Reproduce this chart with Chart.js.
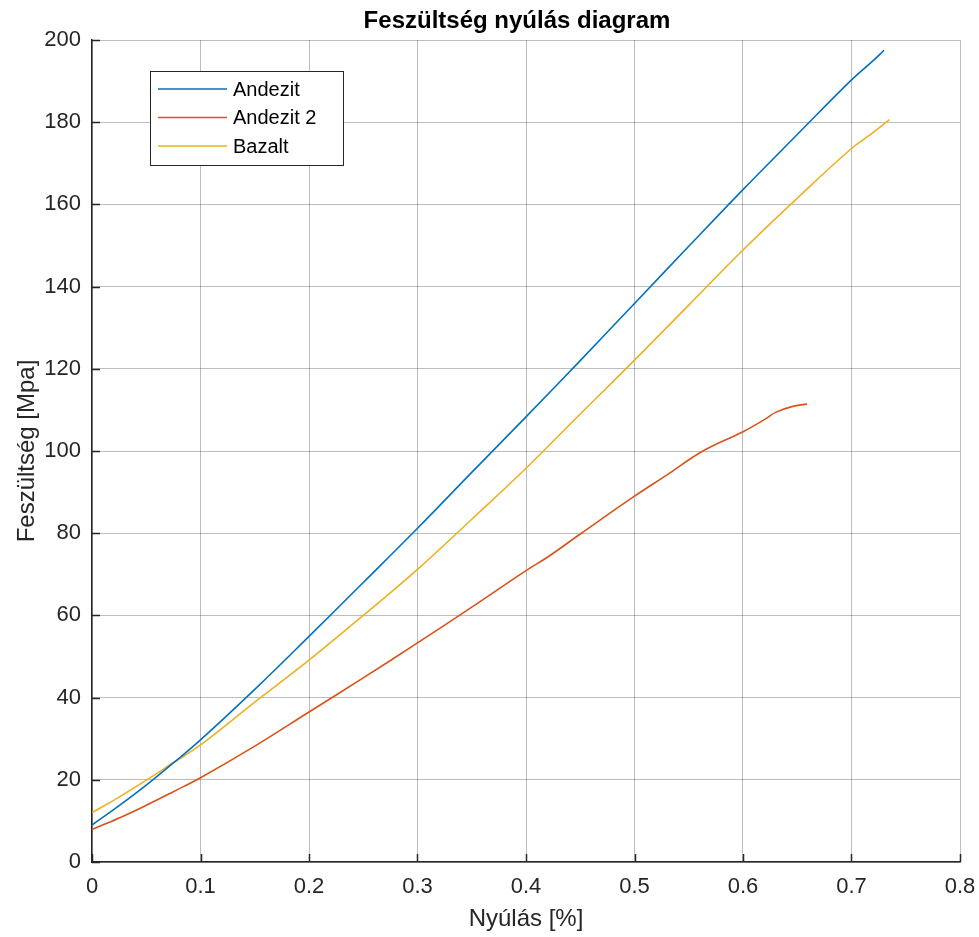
<!DOCTYPE html>
<html>
<head>
<meta charset="utf-8">
<script src="https://cdn.jsdelivr.net/npm/chart.js@4/dist/chart.umd.min.js"></script>
<style>
  html, body { margin: 0; padding: 0; background: #fff; }
  #wrap { width: 979px; height: 937px; }
</style>
</head>
<body>
<div id="wrap"><canvas id="stressChart" width="979" height="937"></canvas></div>
<script>
// Feszültség nyúlás diagram - three samples

const chartTitle = 'Feszültség nyúlás diagram';
const seriesNames = ['Andezit', 'Andezit 2', 'Bazalt'];
const seriesColors = ['#0072BD', '#D95319', '#EDB120'];

// Andezit
const strainA = [0, 0.025, 0.05, 0.075, 0.1, 0.15, 0.2, 0.25, 0.3, 0.35, 0.4, 0.45, 0.5, 0.55, 0.6, 0.65, 0.7, 0.72, 0.73];
const stressA = [9.0, 13.7, 18.7, 24.1, 29.7, 42, 54.9, 68, 81.2, 94.8, 108.3, 122, 135.9, 149.8, 163.6, 177, 190.3, 195, 197.5];

// Andezit 2
const strainC = [0, 0.025, 0.05, 0.075, 0.1, 0.15, 0.2, 0.25, 0.3, 0.35, 0.4, 0.42, 0.45, 0.5, 0.53, 0.563, 0.6, 0.62, 0.63, 0.645, 0.659];
const stressC = [7.9, 10.7, 13.8, 17.1, 20.5, 28.2, 36.5, 44.8, 53.3, 62, 70.9, 74.2, 79.8, 89.0, 94.2, 100, 104.7, 107.7, 109.4, 110.8, 111.4];

// Bazalt
const strainB = [0, 0.025, 0.05, 0.075, 0.1, 0.15, 0.2, 0.25, 0.3, 0.35, 0.4, 0.45, 0.5, 0.55, 0.6, 0.65, 0.7, 0.72, 0.735];
const stressB = [12.0, 15.8, 19.9, 24.2, 28.5, 38.9, 49.1, 60, 71.2, 83.4, 95.8, 109, 122.1, 135.5, 148.9, 161.5, 173.6, 177.5, 180.6];

const xTicks = [0, 0.1, 0.2, 0.3, 0.4, 0.5, 0.6, 0.7, 0.8];
const yTicks = [0, 20, 40, 60, 80, 100, 120, 140, 160, 180, 200];

const FONT = '"Liberation Sans", Arial, Helvetica, sans-serif';
const AXIS = '#262626';
const GRID = 'rgba(38,38,38,0.3)';

function toPoints(xs, ys) {
    return xs.map((x, i) => ({ x: x, y: ys[i] }));
}

// title, inward ticks + legend box inside the plot (MATLAB look)
const matlabBits = {
    id: 'matlabBits',
    afterDraw(chart) {
        const c = chart.ctx;
        const a = chart.chartArea;
        const xs = chart.scales.x, ys = chart.scales.y;
        c.save();

        c.fillStyle = '#000';
        c.font = 'bold 24px ' + FONT;
        c.textAlign = 'center';
        c.textBaseline = 'alphabetic';
        c.fillText(chartTitle, 517, 28);

        c.strokeStyle = AXIS;
        c.lineWidth = 1.5;
        c.beginPath();
        xTicks.forEach(t => {
            const px = Math.round(xs.getPixelForValue(t)) + 0.5;
            c.moveTo(px, a.bottom);
            c.lineTo(px, a.bottom - 8);
        });
        yTicks.forEach(t => {
            const py = Math.round(ys.getPixelForValue(t)) + 0.5;
            c.moveTo(a.left, py);
            c.lineTo(a.left + 8, py);
        });
        c.stroke();

        // legend
        const lx = 150, ly = 71, lw = 193, lh = 94;
        c.fillStyle = '#fff';
        c.fillRect(lx, ly, lw, lh);
        c.strokeStyle = AXIS;
        c.lineWidth = 1;
        c.strokeRect(lx + 0.5, ly + 0.5, lw, lh);
        c.font = '20px ' + FONT;
        c.textAlign = 'left';
        c.textBaseline = 'middle';
        chart.data.datasets.forEach((ds, i) => {
            const y = ly + 18 + i * 28.5;
            c.strokeStyle = ds.borderColor;
            c.lineWidth = 1.5;
            c.beginPath();
            c.moveTo(lx + 8, y);
            c.lineTo(lx + 77, y);
            c.stroke();
            c.fillStyle = '#000';
            c.fillText(ds.label, lx + 83, y + 1);
        });
        c.restore();
    }
};

const ctx = document.getElementById('stressChart').getContext('2d');
const stressChart = new Chart(ctx, {
    type: 'scatter',
    data: {
        datasets: [
            { label: seriesNames[0], data: toPoints(strainA, stressA), borderColor: seriesColors[0] },
            { label: seriesNames[1], data: toPoints(strainC, stressC), borderColor: seriesColors[1] },
            { label: seriesNames[2], data: toPoints(strainB, stressB), borderColor: seriesColors[2] }
        ].map(d => Object.assign(d, {
            showLine: true,
            pointRadius: 0,
            borderWidth: 1.6,
            tension: 0.4,
            fill: false
        }))
    },
    plugins: [matlabBits],
    options: {
        responsive: false,
        animation: false,
        layout: { padding: { left: 0, right: 19, top: 40, bottom: 0 } },
        plugins: {
            legend: { display: false },
            tooltip: { enabled: false },
            title: { display: false }
        },
        scales: {
            x: {
                type: 'linear',
                min: 0,
                max: 0.8,
                afterBuildTicks: s => { s.ticks = xTicks.map(v => ({ value: v })); },
                afterFit: s => { s.height = 75; s.paddingLeft = 0; s.paddingRight = 0; },
                ticks: {
                    color: AXIS,
                    font: { family: FONT, size: 22 },
                    padding: 12,
                    maxRotation: 0,
                    callback: v => String(v)
                },
                grid: { color: GRID, lineWidth: 1, drawTicks: false },
                border: { color: AXIS, width: 1.5 },
                title: {
                    display: true,
                    text: 'Nyúlás [%]',
                    color: AXIS,
                    font: { family: FONT, size: 24 },
                    padding: { top: 4, bottom: 3 }
                }
            },
            y: {
                type: 'linear',
                min: 0,
                max: 200,
                afterBuildTicks: s => { s.ticks = yTicks.map(v => ({ value: v })); },
                afterFit: s => { s.width = 92; s.paddingTop = 0; s.paddingBottom = 0; },
                ticks: {
                    color: AXIS,
                    font: { family: FONT, size: 22 },
                    padding: 11
                },
                grid: { color: GRID, lineWidth: 1, drawTicks: false },
                border: { color: AXIS, width: 1.5 },
                title: {
                    display: true,
                    text: 'Feszültség [Mpa]',
                    color: AXIS,
                    font: { family: FONT, size: 24 },
                    padding: { top: 13, bottom: 10 }
                }
            }
        }
    }
});
</script>
</body>
</html>
